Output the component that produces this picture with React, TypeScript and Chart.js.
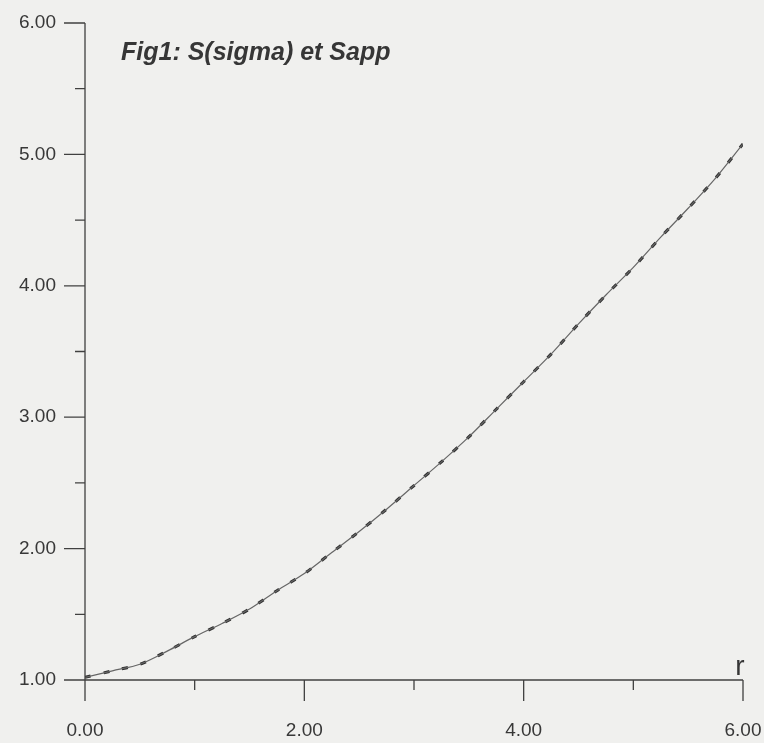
import React, { useEffect, useRef } from "react";
import { Chart, registerables } from "chart.js";

Chart.register(...registerables);

// Data
const rValues = [0, 0.25, 0.5, 0.75, 1, 1.25, 1.5, 1.75, 2, 2.25, 2.5, 2.75, 3, 3.25, 3.5, 3.75, 4, 4.25, 4.5, 4.75, 5, 5.25, 5.5, 5.75, 6];
const sigmaValues = [1.02, 1.07, 1.12, 1.22, 1.33, 1.43, 1.54, 1.68, 1.81, 1.97, 2.13, 2.3, 2.48, 2.66, 2.85, 3.06, 3.27, 3.48, 3.71, 3.93, 4.14, 4.37, 4.59, 4.82, 5.08];
const sappValues = [1.02, 1.07, 1.12, 1.22, 1.33, 1.43, 1.54, 1.68, 1.81, 1.97, 2.13, 2.3, 2.48, 2.66, 2.85, 3.06, 3.27, 3.48, 3.71, 3.93, 4.14, 4.37, 4.59, 4.82, 5.08];
const xMajorTicks = [0, 2, 4, 6];
const xMinorTicks = [1, 3, 5];
const yMajorTicks = [1, 2, 3, 4, 5, 6];
const yMinorTicks = [1.5, 2.5, 3.5, 4.5, 5.5];
const titleText = "Fig1: S(sigma) et Sapp";
const xAxisLabel = "r";

const W = 764;
const H = 743;
const PAPER = "#f0f0ee";
const INK = "#404040";
const TEXT = "#383838";
const FONT = "'Liberation Sans', Arial, sans-serif";

const axesPlugin = {
  id: "handAxes",
  afterDraw(chart: any) {
    const { ctx } = chart;
    const xs = chart.scales.x;
    const ys = chart.scales.y;
    const x0 = xs.getPixelForValue(0);
    const x6 = xs.getPixelForValue(6);
    const y1 = ys.getPixelForValue(1);
    const y6 = ys.getPixelForValue(6);
    ctx.save();
    ctx.strokeStyle = INK;
    ctx.lineWidth = 1.3;
    ctx.lineCap = "butt";
    ctx.beginPath();
    // y axis
    ctx.moveTo(x0, y6);
    ctx.lineTo(x0, y1 + 21);
    // x axis
    ctx.moveTo(x0 - 21, y1);
    ctx.lineTo(x6, y1);
    // y ticks
    yMajorTicks.forEach((v) => {
      const p = ys.getPixelForValue(v);
      ctx.moveTo(x0 - 21, p);
      ctx.lineTo(x0, p);
    });
    yMinorTicks.forEach((v) => {
      const p = ys.getPixelForValue(v);
      ctx.moveTo(x0 - 10, p);
      ctx.lineTo(x0, p);
    });
    // x ticks
    xMajorTicks.forEach((v) => {
      const p = xs.getPixelForValue(v);
      ctx.moveTo(p, y1);
      ctx.lineTo(p, y1 + 21);
    });
    xMinorTicks.forEach((v) => {
      const p = xs.getPixelForValue(v);
      ctx.moveTo(p, y1);
      ctx.lineTo(p, y1 + 10);
    });
    ctx.stroke();

    // title
    ctx.fillStyle = "#363636";
    ctx.font = `italic bold 25px ${FONT}`;
    ctx.textAlign = "left";
    ctx.textBaseline = "alphabetic";
    ctx.fillText(titleText, x0 + 36, y6 + 37);

    // axis label r
    ctx.font = `28px ${FONT}`;
    ctx.fillStyle = "#363636";
    ctx.textAlign = "center";
    ctx.fillText(xAxisLabel, x6 - 3, y1 - 5);
    ctx.restore();
  },
};

const noPad = (s: any) => {
  s.paddingLeft = 0;
  s.paddingRight = 0;
  s.paddingTop = 0;
  s.paddingBottom = 0;
};

export default function App() {
  const ref = useRef<HTMLCanvasElement | null>(null);

  useEffect(() => {
    document.body.style.margin = "0";
    document.body.style.background = PAPER;
    const canvas = ref.current;
    if (!canvas) return;
    const chart = new Chart(canvas, {
      type: "line",
      data: {
        datasets: [
          {
            label: "S(sigma)",
            data: rValues.map((r, i) => ({ x: r, y: sigmaValues[i] })),
            borderColor: "#666666",
            borderWidth: 1.2,
            pointRadius: 0,
            tension: 0.3,
            fill: false,
          },
          {
            label: "Sapp",
            data: rValues.map((r, i) => ({ x: r, y: sappValues[i] })),
            borderColor: "#2e2e2e",
            borderWidth: 3,
            borderDash: [6, 13],
            pointRadius: 0,
            tension: 0.3,
            fill: false,
          },
        ],
      },
      options: {
        responsive: false,
        animation: false,
        devicePixelRatio: 1,
        layout: { padding: { left: 0, right: 21, top: 23, bottom: 0 } },
        plugins: {
          legend: { display: false },
          title: { display: false },
          tooltip: { enabled: false },
        },
        scales: {
          x: {
            type: "linear",
            min: 0,
            max: 6,
            grid: { display: false, drawTicks: false },
            border: { display: false },
            ticks: {
              stepSize: 2,
              padding: 39,
              color: TEXT,
              font: { family: FONT, size: 19 },
              maxRotation: 0,
              callback: (v: any) => Number(v).toFixed(2),
            },
            afterFit: (s: any) => {
              s.height = 63;
              noPad(s);
            },
          },
          y: {
            type: "linear",
            min: 1,
            max: 6,
            grid: { display: false, drawTicks: false },
            border: { display: false },
            ticks: {
              stepSize: 1,
              padding: 29,
              color: TEXT,
              font: { family: FONT, size: 19 },
              callback: (v: any) => Number(v).toFixed(2),
            },
            afterFit: (s: any) => {
              s.width = 85;
              noPad(s);
            },
          },
        },
      },
      plugins: [axesPlugin],
    });
    return () => chart.destroy();
  }, []);

  return (
    <div style={{ position: "relative", width: W, height: H, background: PAPER }}>
      <canvas ref={ref} width={W} height={H} style={{ display: "block" }} />
    </div>
  );
}
